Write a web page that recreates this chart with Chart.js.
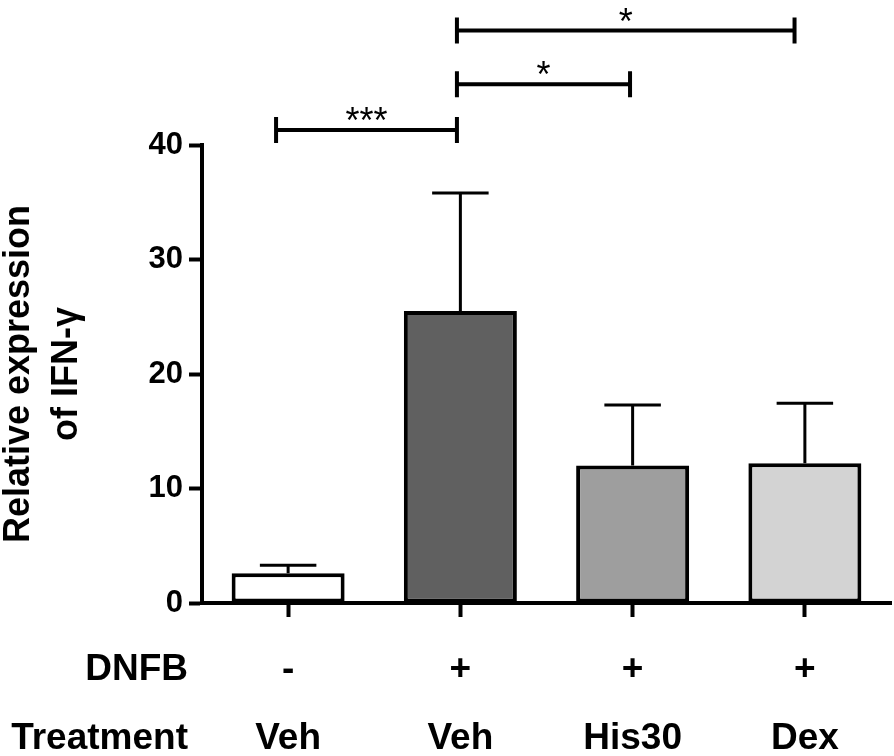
<!DOCTYPE html>
<html>
<head>
<meta charset="utf-8">
<script src="https://cdn.jsdelivr.net/npm/chart.js@4"></script>
<style>
    html, body { margin: 0; padding: 0; background: #fff; }
    #wrap { width: 894px; height: 756px; }
</style>
</head>
<body>
<div id="wrap"><canvas id="chart" width="894" height="756"></canvas></div>
<script>
// ─── Data ─────────────────────────────────────────────────────────────────────
const treatment = ['Veh', 'Veh', 'His30', 'Dex'];
const dnfb = ['-', '+', '+', '+'];
const rowTitles = ['DNFB', 'Treatment'];
const means = [2.6, 25.5, 12.0, 12.2];
const sems = [0.7, 10.3, 5.3, 5.25];
const barColors = ['#ffffff', '#606060', '#9e9e9e', '#d3d3d3'];

// significance brackets: from / to in category units, height in y units
const bracketFrom = [-0.07, 0.98, 0.98];
const bracketTo = [0.98, 1.985, 2.94];
const bracketLevel = [41.3, 45.3, 50.0];
const bracketLabel = ['***', '*', '*'];

const FONT = '"Liberation Sans", Arial, sans-serif';
Chart.defaults.font.family = FONT;
Chart.defaults.color = '#000';

// ─── Error bars (mean + SEM, upper only) ──────────────────────────────────────
const errorBars = {
    id: 'errorBars',
    afterDatasetsDraw(chart) {
        const { ctx } = chart;
        const y = chart.scales.y;
        const meta = chart.getDatasetMeta(0);
        ctx.save();
        ctx.strokeStyle = '#000';
        ctx.lineWidth = 3;
        meta.data.forEach((bar, i) => {
            const top = y.getPixelForValue(means[i] + sems[i]);
            const half = bar.width * 0.25;
            ctx.beginPath();
            ctx.moveTo(bar.x, bar.y);
            ctx.lineTo(bar.x, top);
            ctx.moveTo(bar.x - half, top);
            ctx.lineTo(bar.x + half, top);
            ctx.stroke();
        });
        ctx.restore();
    }
};

// ─── Brackets + row titles ────────────────────────────────────────────────────
const annotations = {
    id: 'annotations',
    afterDraw(chart) {
        const { ctx } = chart;
        const xs = chart.scales.x;
        const ys = chart.scales.y;
        ctx.save();

        // brackets
        ctx.strokeStyle = '#000';
        ctx.fillStyle = '#000';
        ctx.lineWidth = 4;
        ctx.font = '36px ' + FONT;
        ctx.textAlign = 'center';
        ctx.textBaseline = 'alphabetic';
        bracketLabel.forEach((label, i) => {
            const x1 = xs.getPixelForValue(bracketFrom[i]);
            const x2 = xs.getPixelForValue(bracketTo[i]);
            const yy = ys.getPixelForValue(bracketLevel[i]);
            ctx.beginPath();
            ctx.moveTo(x1, yy);
            ctx.lineTo(x2, yy);
            ctx.moveTo(x1, yy - 13);
            ctx.lineTo(x1, yy + 13);
            ctx.moveTo(x2, yy - 13);
            ctx.lineTo(x2, yy + 13);
            ctx.stroke();
            ctx.fillText(label, (x1 + x2) / 2, yy + 3);
        });

        // row titles next to the x tick labels
        const o = xs.options;
        const lh = o.ticks.font.size * o.ticks.font.lineHeight;
        const y0 = xs.top + o.grid.tickLength + o.ticks.padding + lh / 2;
        ctx.font = 'bold ' + o.ticks.font.size + 'px ' + FONT;
        ctx.textAlign = 'right';
        ctx.textBaseline = 'middle';
        rowTitles.forEach((t, i) => ctx.fillText(t, xs.left - 14, y0 + i * lh));

        ctx.restore();
    }
};

// ─── Chart ────────────────────────────────────────────────────────────────────
new Chart(document.getElementById('chart'), {
    type: 'bar',
    data: {
        labels: treatment,
        datasets: [{
            data: means,
            backgroundColor: barColors,
            borderColor: '#000',
            borderWidth: 4,
            borderSkipped: false,
            barPercentage: 0.656,
            categoryPercentage: 1
        }]
    },
    options: {
        responsive: false,
        animation: false,
        layout: { padding: { top: 145, right: 3, bottom: 0, left: -5 } },
        plugins: { legend: { display: false }, tooltip: { enabled: false } },
        scales: {
            x: {
                grid: { display: true, offset: false, drawOnChartArea: false, drawTicks: true, tickLength: 14, tickColor: '#000', tickWidth: 4 },
                border: { color: '#000', width: 4 },
                ticks: {
                    color: '#000',
                    padding: 18,
                    maxRotation: 0,
                    font: { size: 37, weight: 'bold', lineHeight: 69 / 37 },
                    callback: (v, i) => [dnfb[i], treatment[i]]
                },
                afterFit(s) { s.height = 153; }
            },
            y: {
                min: 0,
                max: 40,
                grid: { display: true, drawOnChartArea: false, drawTicks: true, tickLength: 13, tickColor: '#000', tickWidth: 4 },
                border: { color: '#000', width: 4 },
                ticks: { stepSize: 10, color: '#000', padding: 6, font: { size: 31, weight: 'bold' } },
                title: {
                    display: true,
                    text: ['Relative expression', 'of IFN-γ'],
                    color: '#000',
                    padding: { top: 0, bottom: 0 },
                    font: { size: 36, weight: 'bold', lineHeight: 1.333 }
                },
                afterFit(s) { s.width = 207; }
            }
        }
    },
    plugins: [errorBars, annotations]
});
</script>
</body>
</html>
